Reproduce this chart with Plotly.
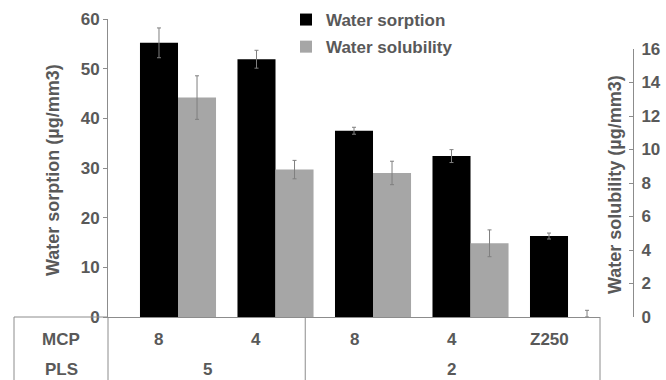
import plotly.graph_objects as go

# ---- data ----
mcp_labels = ["8", "4", "8", "4", "Z250"]
pls_labels = ["5", "2"]
pls_spans = [(0, 1), (2, 4)]          # category index ranges covered by each PLS label
sorption = [55.2, 51.9, 37.5, 32.4, 16.3]
sorption_err = [3.0, 1.8, 0.7, 1.3, 0.6]
solubility = [13.1, 8.8, 8.6, 4.4, 0.0]
solubility_err_plus = [1.3, 0.55, 0.7, 0.8, 0.4]
solubility_err_minus = [1.3, 0.55, 0.7, 0.8, 0.0]

# ---- style ----
TXT = "#595959"
LINE = "#8c8c8c"
FONT = "Liberation Sans"
W, H = 666, 380
ml, mr, mt, mb = 108, 33, 19, 63
plot_w = W - ml - mr
plot_h = H - mt - mb
x_dom_end = (600 - ml) / plot_w
xr = [-0.523, 4.523]
bw = 0.39

def xpaper(v):
    return (v - xr[0]) / (xr[1] - xr[0]) * x_dom_end

def xpix(px):
    return (px - ml) / plot_w

def ypix(py):
    return (H - mb - py) / plot_h

xs = list(range(len(mcp_labels)))

fig = go.Figure()
fig.add_trace(go.Bar(
    x=xs, y=sorption, name="Water sorption", marker_color="#000000",
    marker_line_width=0, width=bw, offset=-bw / 2, legendgroup="a",
    error_y=dict(type="data", array=sorption_err, color="#7f7f7f", thickness=1, width=2),
    xaxis="x", yaxis="y",
))
fig.add_trace(go.Bar(
    x=xs, y=solubility, name="Water solubility", marker_color="#a6a6a6",
    marker_line_width=0, width=bw, offset=bw / 2, legendgroup="b",
    error_y=dict(type="data", symmetric=False, array=solubility_err_plus,
                 arrayminus=solubility_err_minus, color="#7f7f7f", thickness=1, width=2),
    xaxis="x", yaxis="y2",
))

tf = dict(family=FONT, size=17, color=TXT, weight="bold")
fig.update_layout(
    width=W, height=H, margin=dict(l=ml, r=mr, t=mt, b=mb, pad=0, autoexpand=False),
    paper_bgcolor="white", plot_bgcolor="rgba(0,0,0,0)",
    font=tf,
    barmode="overlay",
    showlegend=True,
    legend=dict(x=xpix(286), y=1 + (mt - 2) / plot_h, xanchor="left", yanchor="top",
                bgcolor="rgba(0,0,0,0)", font=tf, traceorder="grouped", tracegroupgap=2,
                itemwidth=30),
    xaxis=dict(domain=[0, x_dom_end], range=xr, showticklabels=False, ticks="",
               showgrid=False, zeroline=False, showline=True, linecolor=LINE, linewidth=1,
               automargin=False),
    yaxis=dict(range=[0, 60], dtick=10, showgrid=False, zeroline=False, showline=True,
               linecolor=LINE, linewidth=1, ticks="outside", ticklen=4, tickcolor=LINE,
               tickfont=tf, automargin=False),
    yaxis2=dict(range=[0, 16], dtick=2, domain=[0, ypix(49)], anchor="free",
                position=1.0, side="right", showgrid=False, zeroline=False, showline=True,
                linecolor=LINE, linewidth=1, ticks="inside", ticklen=4, tickcolor=LINE,
                tickfont=tf, ticklabelstandoff=4, automargin=False),
)

# ---- table under the axis ----
ybot = ypix(H)
left_border = xpix(14)
shapes = [
    dict(type="line", xref="paper", yref="paper", x0=left_border, x1=0, y0=0, y1=0),
    dict(type="line", xref="paper", yref="paper", x0=left_border, x1=left_border, y0=0, y1=ybot),
    dict(type="line", xref="paper", yref="paper", x0=0, x1=0, y0=0, y1=ybot),
    dict(type="line", xref="paper", yref="paper", x0=x_dom_end, x1=x_dom_end, y0=0, y1=ybot),
]
for a, b in pls_spans[:-1]:
    xp = xpaper(b + 0.5)
    shapes.append(dict(type="line", xref="paper", yref="paper", x0=xp, x1=xp, y0=0, y1=ybot))
for s in shapes:
    s["line"] = dict(color=LINE, width=1)
fig.update_layout(shapes=shapes)

row1, row2 = ypix(339), ypix(369)
ann = [
    dict(text="MCP", x=left_border / 2, y=row1),
    dict(text="PLS", x=left_border / 2, y=row2),
]
for i, lab in enumerate(mcp_labels):
    ann.append(dict(text=lab, x=xpaper(i), y=row1))
for lab, (a, b) in zip(pls_labels, pls_spans):
    ann.append(dict(text=lab, x=xpaper((a + b) / 2), y=row2))
# axis titles
ttl = dict(family=FONT, size=18, color=TXT, weight="bold")
ann.append(dict(text="Water sorption (µg/mm3)", x=xpix(53), y=ypix(170), textangle=-90, font=ttl))
ann.append(dict(text="Water solubility (µg/mm3)", x=xpix(615), y=ypix(185), textangle=-90, font=ttl))
for a in ann:
    a.update(xref="paper", yref="paper", showarrow=False, xanchor="center", yanchor="middle")
fig.update_layout(annotations=ann)

fig.write_html("out.html")
